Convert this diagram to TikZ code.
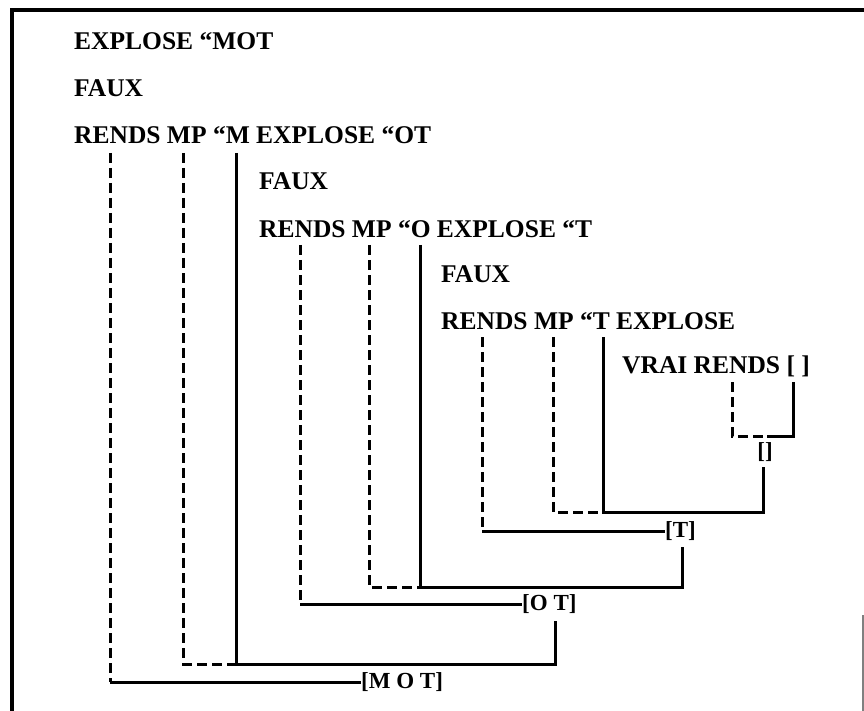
\documentclass[tikz,border=0pt]{standalone}
\usepackage{fontspec}
\setmainfont{Liberation Serif}
\begin{document}
\begin{tikzpicture}[x=1pt,y=-1pt,
  txt/.style={font=\fontsize{25.5}{30}\selectfont\bfseries, inner sep=0pt, anchor=base west},
  lab/.style={font=\fontsize{23}{27}\selectfont\bfseries, inner sep=0pt},
  sol/.style={line width=3pt},
  dsh/.style={line width=3pt, dash pattern=on 10pt off 5pt},
  framel/.style={line width=3.4pt}]
\useasboundingbox (0,0) rectangle (864,711);
% frame
\draw[framel] (12,711) -- (12,10) -- (864,10);
\draw[gray, line width=1.5pt] (863,615) -- (863,711);
% text lines
\node[txt] (t1) at (74,50) {EXPLOSE “MOT};
\node[txt] (t2) at (74,97) {FAUX};
\node[txt] (t3) at (74,144) {RENDS MP “M EXPLOSE “OT};
\node[txt] (t4) at (259,190) {FAUX};
\node[txt] (t5) at (259,237) {RENDS MP “O EXPLOSE “T};
\node[txt] (t6) at (441,283) {FAUX};
\node[txt] (t7) at (441,329) {RENDS MP “T EXPLOSE};
\node[txt] (t8) at (622,373) {VRAI RENDS [ ]};
% results
\node[lab] (r0) at (765,452) {[]};
\node[lab,anchor=west] (r1) at (665,531) {[T]};
\node[lab,anchor=west] (r2) at (522,604) {[O T]};
\node[lab,anchor=west] (r3) at (361,682) {[M O T]};
% level 1
\coordinate (a1) at (110,153);
\coordinate (a2) at (183,153);
\coordinate (a3) at (236,153);
\coordinate (k1) at (555,664);
\draw[dsh] (a1) -- (a1 |- r3.west);
\draw[sol] (a1 |- r3.west) -- (r3.west);
\draw[dsh] (a2) -- (a2 |- k1) -- (a3 |- k1);
\draw[sol] (a3) -- (a3 |- k1) -- (k1) -- ([yshift=-7pt]k1 |- r2.south);
% level 2
\coordinate (b1) at (300,245);
\coordinate (b2) at (369,245);
\coordinate (b3) at (420,245);
\coordinate (k2) at (682,587);
\draw[dsh] (b1) -- (b1 |- r2.west);
\draw[sol] (b1 |- r2.west) -- (r2.west);
\draw[dsh] (b2) -- (b2 |- k2) -- (b3 |- k2);
\draw[sol] (b3) -- (b3 |- k2) -- (k2) -- ([yshift=-6pt]k2 |- r1.south);
% level 3
\coordinate (c1) at (482,337);
\coordinate (c2) at (553,337);
\coordinate (c3) at (603,337);
\coordinate (k3) at (763,512);
\draw[dsh] (c1) -- (c1 |- r1.west);
\draw[sol] (c1 |- r1.west) -- (r1.west);
\draw[dsh] (c2) -- (c2 |- k3) -- (c3 |- k3);
\draw[sol] (c3) -- (c3 |- k3) -- (k3) -- ([yshift=-5pt]k3 |- r0.south);
% level 4
\coordinate (d1) at (732,382);
\coordinate (d2) at (793,382);
\coordinate (k4) at (767,436);
\draw[dsh] (d1) -- (d1 |- k4) -- (k4);
\draw[sol] (k4) -- (d2 |- k4) -- (d2);
\end{tikzpicture}
\end{document}
